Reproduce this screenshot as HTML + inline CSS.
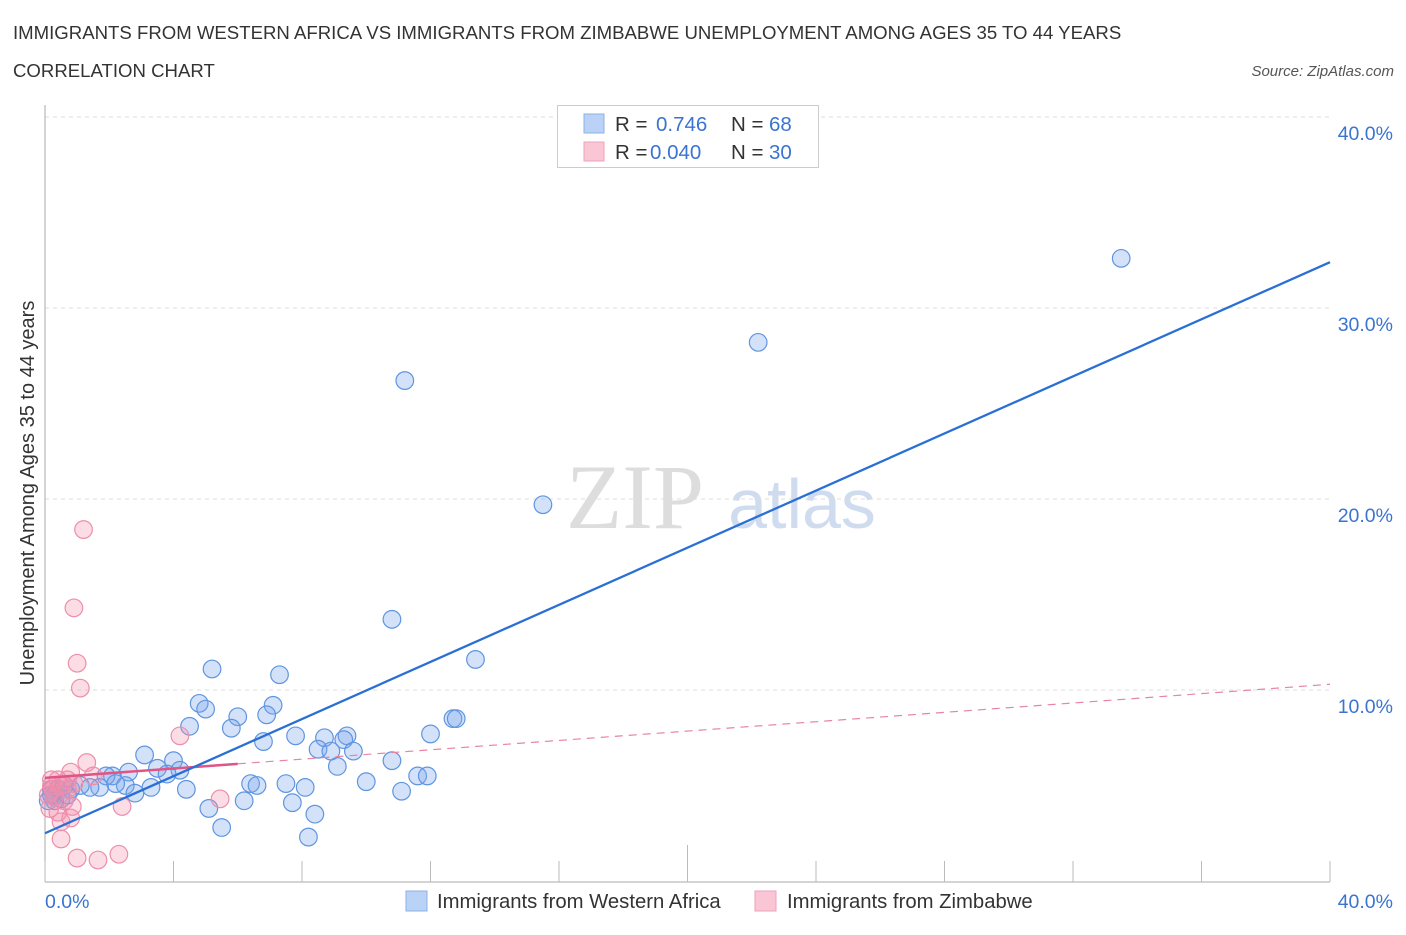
<!DOCTYPE html>
<html><head><meta charset="utf-8"><style>
body{margin:0;background:#fff;font-family:"Liberation Sans",sans-serif;}
</style></head><body>
<svg width="1406" height="930" xmlns="http://www.w3.org/2000/svg">
<text x="13" y="39" font-size="18.6" fill="#333">IMMIGRANTS FROM WESTERN AFRICA VS IMMIGRANTS FROM ZIMBABWE UNEMPLOYMENT AMONG AGES 35 TO 44 YEARS</text>
<text x="13" y="77" font-size="18.6" fill="#333">CORRELATION CHART</text>
<text x="1394" y="76" font-size="15" fill="#555" font-style="italic" text-anchor="end">Source: ZipAtlas.com</text>
<g>
<text x="635" y="528" font-size="92" fill="#ddd" font-family="Liberation Serif,serif" text-anchor="middle">ZIP</text>
<text x="802" y="528" font-size="70" fill="#cfdcf0" text-anchor="middle">atlas</text>
</g>
<g id="grid"></g>
<line x1="45" y1="105" x2="45" y2="882" stroke="#aaa"/>
<line x1="45" y1="882" x2="1330" y2="882" stroke="#aaa"/>
<g id="ticks"></g>
<text x="34" y="493" font-size="20" fill="#333" text-anchor="middle" transform="rotate(-90 34 493)">Unemployment Among Ages 35 to 44 years</text>
<text x="45" y="908" font-size="19.5" fill="#3a74d0">0.0%</text>
<text x="1393" y="908" font-size="19.5" fill="#3a74d0" text-anchor="end">40.0%</text>
<g id="pts"></g>
<g id="lines"></g>
<g>
<rect x="557.5" y="105.5" width="261" height="62" fill="#fff" stroke="#ccc"/>
<rect x="584" y="114" width="20" height="19" fill="#b9d2f5" stroke="#8cb2e8"/>
<rect x="584" y="142" width="20" height="19" fill="#fac5d5" stroke="#eea3bb"/>
<text x="615" y="131" font-size="20.5" fill="#333">R = </text><text x="656" y="131" font-size="20.5" fill="#3a74d0">0.746</text>
<text x="731" y="131" font-size="20.5" fill="#333">N = </text><text x="769" y="131" font-size="20.5" fill="#3a74d0">68</text>
<text x="615" y="159" font-size="20.5" fill="#333">R = </text><text x="650" y="159" font-size="20.5" fill="#3a74d0">0.040</text>
<text x="731" y="159" font-size="20.5" fill="#333">N = </text><text x="769" y="159" font-size="20.5" fill="#3a74d0">30</text>
</g>
<g>
<rect x="406" y="891" width="21" height="20" fill="#b9d2f5" stroke="#8cb2e8"/>
<text x="437" y="908" font-size="20.3" fill="#333">Immigrants from Western Africa</text>
<rect x="755" y="891" width="21" height="20" fill="#fac5d5" stroke="#eea3bb"/>
<text x="787" y="908" font-size="20.3" fill="#333">Immigrants from Zimbabwe</text>
</g>
</svg>
<script>
const yTicks=[10,20,30,40];
const yTickLabels=["10.0%","20.0%","30.0%","40.0%"];
const xTicks=[0,4,8,12,16,20,24,28,32,36,40];
const blueX=[33.5,22.2,11.2,15.5,10.8,13.4,5.2,7.3,4.8,7.1,5.0,6.0,6.9,12.7,12.8,12.0,4.5,5.8,9.4,9.3,8.7,7.8,6.8,8.5,8.9,9.6,3.1,4.0,10.8,9.1,4.2,3.5,3.8,2.1,2.6,1.9,11.6,11.9,10.0,6.4,7.5,6.6,2.5,3.3,4.4,2.8,1.7,1.4,0.8,0.4,0.2,0.3,0.1,0.5,8.1,11.1,7.7,6.2,5.1,8.4,5.5,8.2,1.1,0.6,2.2,0.3,0.2,0.7];
const blueY=[32.6,28.2,26.2,19.7,13.7,11.6,11.1,10.8,9.3,9.2,9.0,8.6,8.7,8.5,8.5,7.7,8.1,8.0,7.6,7.4,7.5,7.6,7.3,6.9,6.8,6.8,6.6,6.3,6.3,6.0,5.8,5.9,5.6,5.5,5.7,5.5,5.5,5.5,5.2,5.1,5.1,5.0,5.0,4.9,4.8,4.6,4.9,4.9,4.8,4.8,4.8,4.5,4.2,4.3,4.9,4.7,4.1,4.2,3.8,3.5,2.8,2.3,5.0,5.0,5.1,4.2,4.5,4.5];
const pinkX=[1.2,0.9,1.0,1.1,4.2,1.3,0.8,0.4,0.2,0.7,0.9,0.5,0.25,0.1,0.3,0.6,0.85,2.4,5.45,0.15,0.4,0.8,0.5,0.5,1.0,1.65,2.3,0.2,0.7,1.5];
const pinkY=[18.4,14.3,11.4,10.1,7.6,6.2,5.7,5.3,5.3,5.3,5.1,5.0,4.8,4.5,4.4,4.2,3.9,3.9,4.3,3.8,3.6,3.3,3.1,2.2,1.2,1.1,1.4,5.0,4.8,5.5];
const blueFit=[2.5,32.4];
const pinkFit=[5.4,10.3];
const pinkSolidEnd=6.0;
const NS="http://www.w3.org/2000/svg";
const X=v=>45+v*32.125, Y=v=>881-v*19.1;
function mk(t,a,p){const e=document.createElementNS(NS,t);for(const k in a)e.setAttribute(k,a[k]);document.getElementById(p).appendChild(e);return e;}
yTicks.forEach((t,i)=>{
 const g=mk('line',{x1:45,x2:1330,y1:Y(t),y2:Y(t),stroke:'#ddd','stroke-dasharray':'4,4'},'grid');
 
 
 const l=mk('text',{x:1393,y:Y(t)+23,'font-size':19.5,fill:'#3a74d0','text-anchor':'end'},'grid');
 l.textContent=yTickLabels[i];
 
 
});
xTicks.forEach(t=>{
 const e=mk('line',{x1:X(t),x2:X(t),y1:t==20?845:861,y2:882,stroke:'#bbb'},'ticks');
 
 
});
blueX.forEach((v,i)=>{
 const c=mk('circle',{cx:X(v),cy:Y(blueY[i]),r:8.8,fill:'rgba(120,165,235,0.32)',stroke:'#5f95e0','stroke-width':1.2},'pts');
 
 
});
pinkX.forEach((v,i)=>{
 const c=mk('circle',{cx:X(v),cy:Y(pinkY[i]),r:8.8,fill:'rgba(245,140,170,0.3)',stroke:'#ec8fab','stroke-width':1.2},'pts');
 
 
});
const pAt=x=>pinkFit[0]+(pinkFit[1]-pinkFit[0])*x/40;
let l1=mk('line',{x1:X(pinkSolidEnd),y1:Y(pAt(pinkSolidEnd)),x2:X(40),y2:Y(pinkFit[1]),stroke:'#e8859f','stroke-width':1.2,'stroke-dasharray':'8,6'},'lines');


let l2=mk('line',{x1:X(0),y1:Y(pinkFit[0]),x2:X(pinkSolidEnd),y2:Y(pAt(pinkSolidEnd)),stroke:'#e05585','stroke-width':2.5},'lines');


let l3=mk('line',{x1:X(0),y1:Y(blueFit[0]),x2:X(40),y2:Y(blueFit[1]),stroke:'#2a6fd6','stroke-width':2.3},'lines');


</script>
</body></html>
